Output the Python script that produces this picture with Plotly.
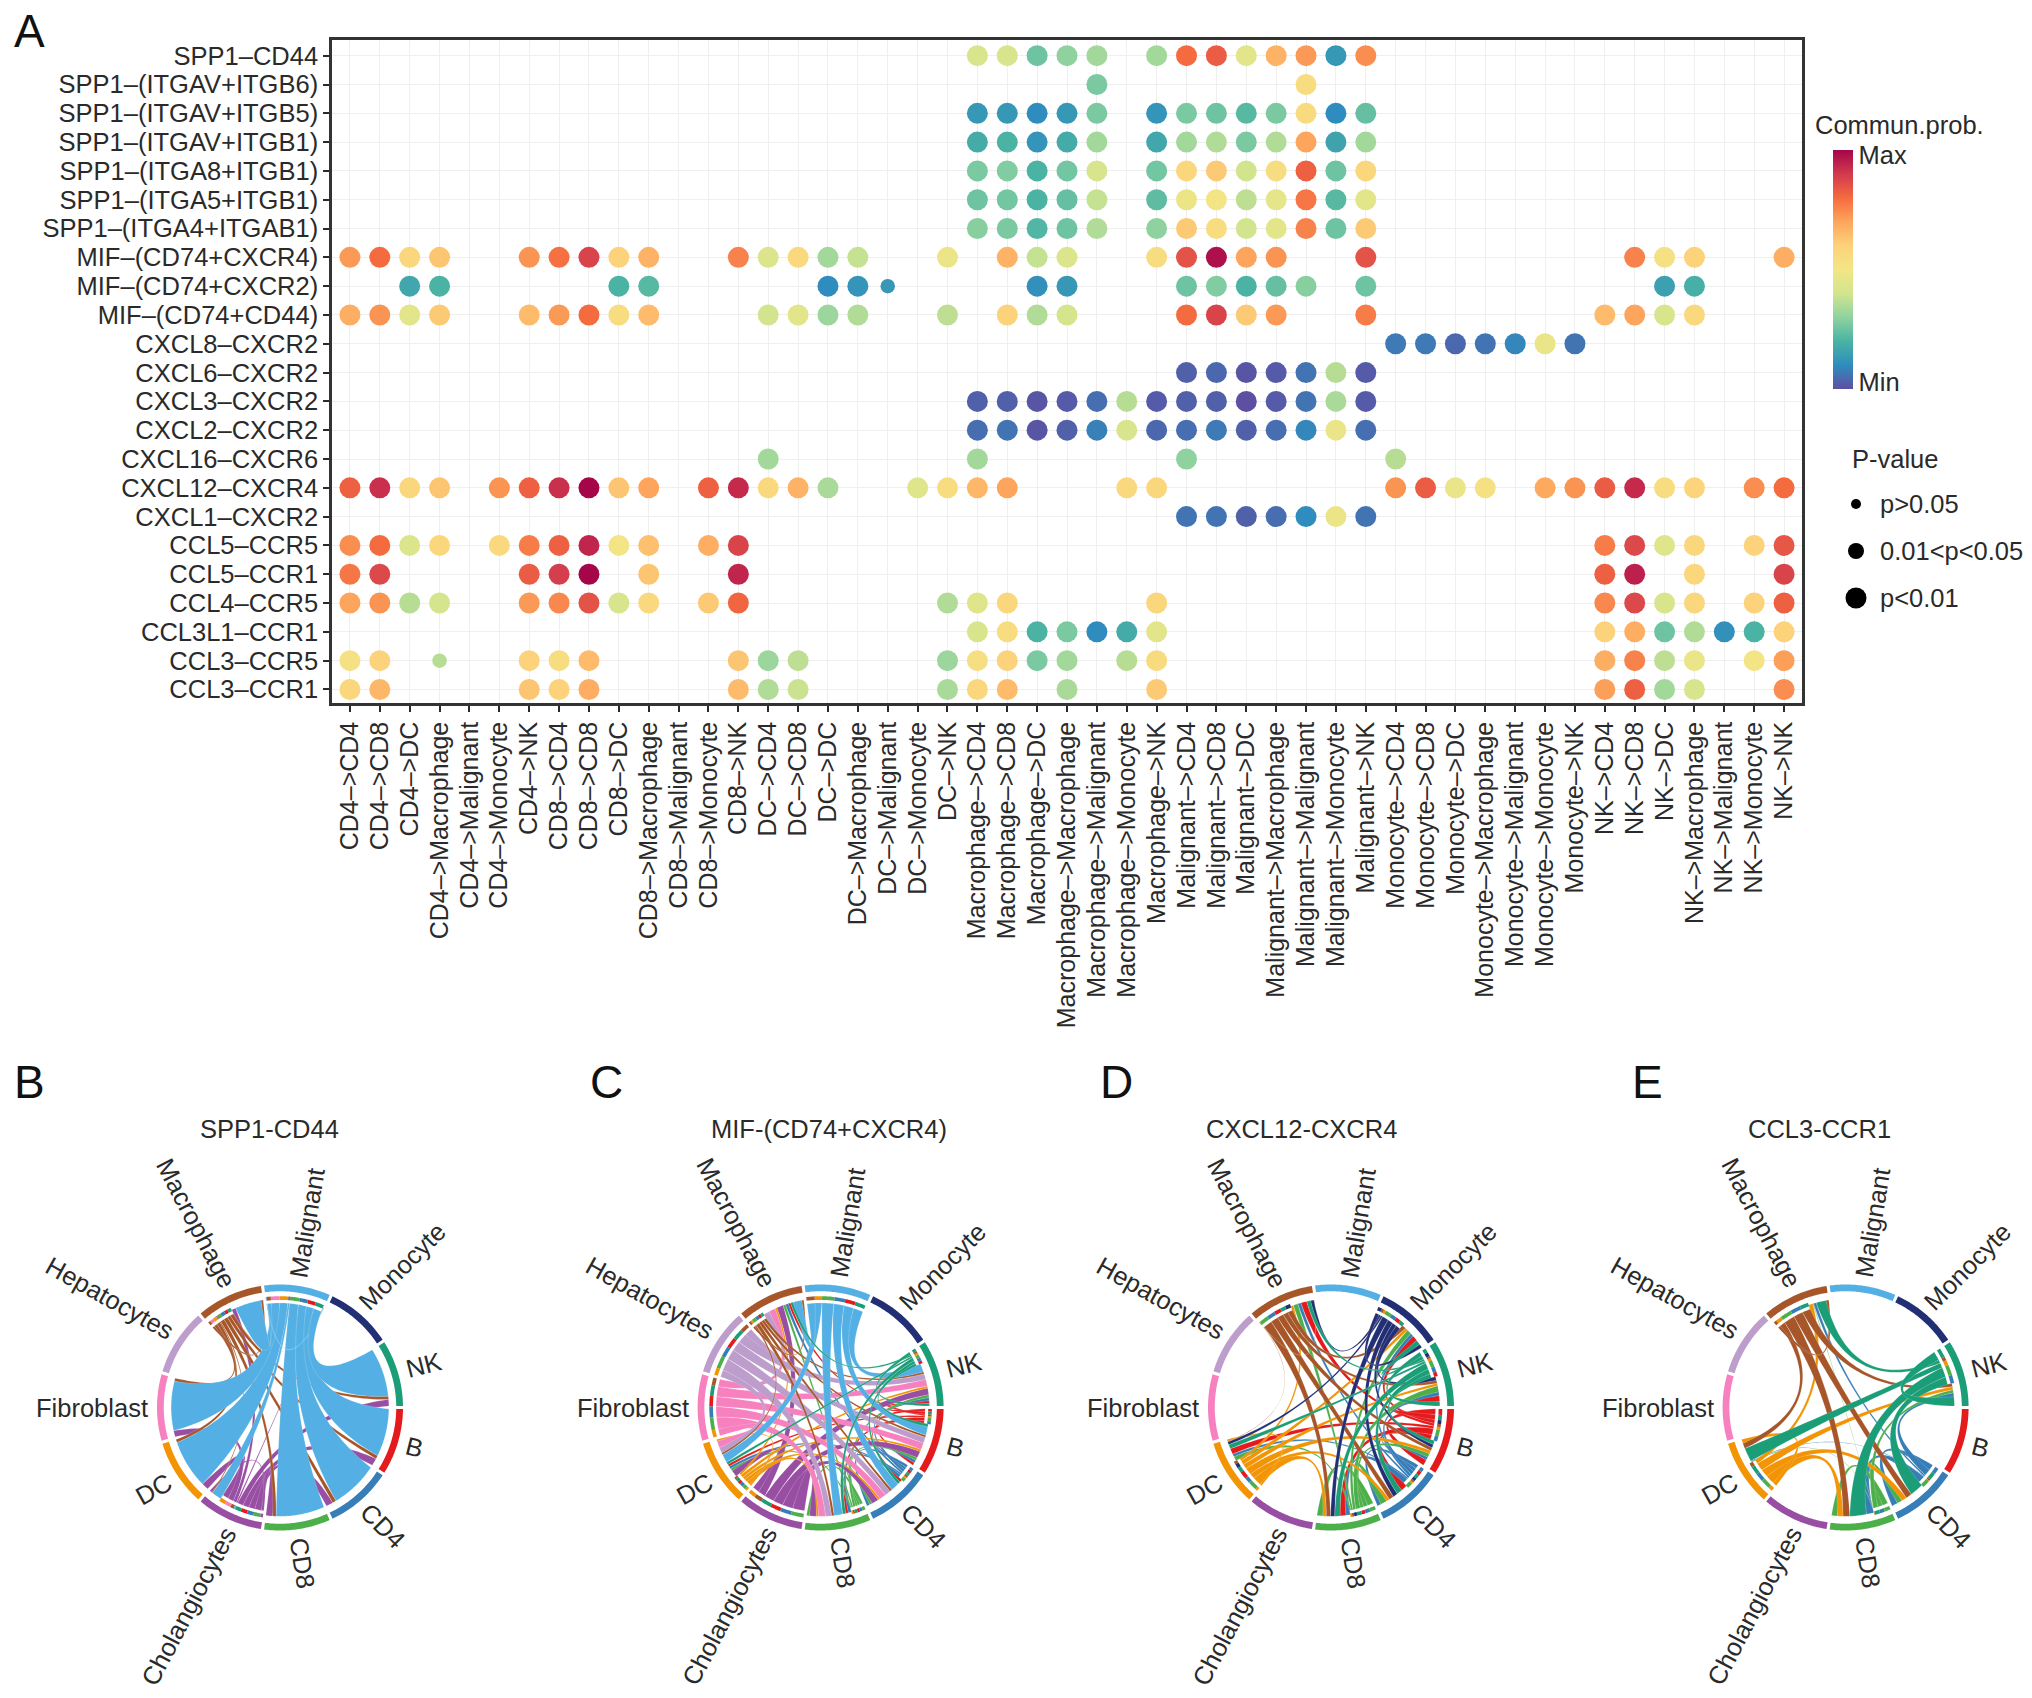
import numpy as np
import plotly.graph_objects as go

W, H = 2032, 1698
FONT = "Liberation Sans"
FS = 25.5
INK = "#2A2A2A"

# ---------------- Panel A data ----------------
cell_types = ["CD4", "CD8", "DC", "Macrophage", "Malignant", "Monocyte", "NK"]
pair_labels = [f"{a}–>{b}" for a in cell_types for b in cell_types]
pathway_labels = ["SPP1–CD44", "SPP1–(ITGAV+ITGB6)", "SPP1–(ITGAV+ITGB5)", "SPP1–(ITGAV+ITGB1)",
                  "SPP1–(ITGA8+ITGB1)", "SPP1–(ITGA5+ITGB1)", "SPP1–(ITGA4+ITGAB1)", "MIF–(CD74+CXCR4)",
                  "MIF–(CD74+CXCR2)", "MIF–(CD74+CD44)", "CXCL8–CXCR2", "CXCL6–CXCR2", "CXCL3–CXCR2",
                  "CXCL2–CXCR2", "CXCL16–CXCR6", "CXCL12–CXCR4", "CXCL1–CXCR2", "CCL5–CCR5", "CCL5–CCR1",
                  "CCL4–CCR5", "CCL3L1–CCR1", "CCL3–CCR5", "CCL3–CCR1"]

# keys: index in pair_labels, values: scaled communication probability
spp1_cd44 = {21:.42,22:.42,23:.25,24:.3,25:.33,27:.33,28:.8,29:.83,30:.45,31:.67,32:.72,33:.13,34:.74}
spp1_b6 = {25:.27,32:.55}
spp1_b5 = {21:.13,22:.13,23:.1,24:.13,25:.27,27:.12,28:.27,29:.25,30:.22,31:.27,32:.56,33:.1,34:.24}
spp1_av_b1 = {21:.18,22:.2,23:.12,24:.18,25:.33,27:.17,28:.33,29:.35,30:.27,31:.35,32:.7,33:.16,34:.33}
spp1_a8_b1 = {21:.27,22:.28,23:.2,24:.26,25:.42,27:.26,28:.58,29:.62,30:.4,31:.54,32:.82,33:.25,34:.58}
spp1_a5_b1 = {21:.25,22:.26,23:.2,24:.24,25:.38,27:.23,28:.48,29:.5,30:.37,31:.46,32:.78,33:.22,34:.45}
spp1_a4_b1 = {21:.29,22:.27,23:.21,24:.25,25:.35,27:.3,28:.62,29:.55,30:.4,31:.45,32:.76,33:.25,34:.62}
mif_cxcr4 = {0:.72,1:.8,2:.58,3:.63,6:.73,7:.79,8:.88,9:.6,10:.67,13:.76,14:.43,15:.57,16:.33,17:.38,20:.48,
             22:.67,23:.38,24:.43,27:.55,28:.85,29:.98,30:.7,31:.73,34:.85,43:.76,44:.52,45:.6,48:.68}
mif_cxcr2 = {2:.17,3:.2,9:.2,10:.22,16:.1,17:.12,18:.13,23:.11,24:.13,28:.25,29:.28,30:.2,31:.24,32:.29,34:.25,44:.15,45:.19}
mif_cd44 = {0:.68,1:.73,2:.45,3:.62,6:.65,7:.72,8:.8,9:.55,10:.65,14:.4,15:.45,16:.32,17:.35,20:.37,22:.6,23:.35,
            24:.41,28:.8,29:.88,30:.62,31:.72,34:.77,42:.65,43:.7,44:.42,45:.57}
cxcl8 = {35:.07,36:.07,37:.04,38:.06,39:.09,40:.47,41:.06}
cxcl6 = {28:.03,29:.04,30:.01,31:.02,32:.06,33:.36,34:.02}
cxcl3 = {21:.03,22:.03,23:.01,24:.02,25:.05,26:.36,27:.02,28:.03,29:.03,30:0,31:.02,32:.06,33:.34,34:.02}
cxcl2 = {21:.05,22:.06,23:.01,24:.03,25:.08,26:.42,27:.04,28:.05,29:.07,30:.03,31:.05,32:.09,33:.47,34:.05}
cxcl16 = {14:.33,21:.33,28:.3,35:.36}
cxcl12 = {0:.82,1:.92,2:.58,3:.63,5:.73,6:.82,7:.92,8:1,9:.63,10:.7,12:.82,13:.93,14:.57,15:.67,16:.34,19:.44,20:.55,
          21:.66,22:.7,26:.57,27:.58,35:.73,36:.83,37:.47,38:.52,40:.69,41:.73,42:.83,43:.93,44:.55,45:.59,47:.74,48:.8}
cxcl1 = {28:.06,29:.06,30:.03,31:.05,32:.1,33:.48,34:.06}
ccl5_ccr5 = {0:.74,1:.8,2:.43,3:.58,5:.57,6:.77,7:.82,8:.94,9:.5,10:.64,12:.68,13:.88,42:.77,43:.87,44:.44,45:.58,47:.6,48:.84}
ccl5_ccr1 = {0:.78,1:.87,6:.83,7:.89,8:1,10:.63,13:.94,42:.82,43:.95,45:.58,48:.88}
ccl4_ccr5 = {0:.7,1:.73,2:.36,3:.41,6:.72,7:.75,8:.85,9:.42,10:.57,12:.62,13:.81,20:.35,21:.44,22:.58,27:.58,42:.75,
             43:.87,44:.42,45:.58,47:.6,48:.82}
ccl3l1 = {21:.42,22:.55,23:.2,24:.27,25:.1,26:.18,27:.45,42:.6,43:.68,44:.25,45:.35,46:.11,47:.2,48:.6}
ccl3_ccr5 = {0:.52,1:.6,3:.36,6:.6,7:.55,8:.65,13:.63,14:.32,15:.37,20:.32,21:.53,22:.6,23:.27,24:.33,26:.36,27:.56,
             42:.68,43:.76,44:.37,45:.47,47:.5,48:.71}
ccl3_ccr1 = {0:.58,1:.66,6:.63,7:.6,8:.68,13:.65,14:.35,15:.39,20:.34,21:.58,22:.65,24:.34,27:.62,42:.71,43:.82,44:.33,45:.42,48:.74}
rows = [spp1_cd44, spp1_b6, spp1_b5, spp1_av_b1, spp1_a8_b1, spp1_a5_b1, spp1_a4_b1, mif_cxcr4, mif_cxcr2, mif_cd44,
        cxcl8, cxcl6, cxcl3, cxcl2, cxcl16, cxcl12, cxcl1, ccl5_ccr5, ccl5_ccr1, ccl4_ccr5, ccl3l1, ccl3_ccr5, ccl3_ccr1]
# (row, column) cells drawn with the middle p-value size
mid_p_cells = [(8, 18), (21, 3)]

spectral = ["#5E4FA2", "#2F8CBE", "#4AB3A4", "#8FD2A0", "#D2E58E", "#F3E586", "#FCD27A", "#FDA55C", "#F46B3F", "#D23A4E", "#A5064A"]
p_labels = ["p>0.05", "0.01<p<0.05", "p<0.01"]
p_sizes = [10, 16, 21]

# ---------------- Chord panels data ----------------
sectors = ["B", "CD4", "CD8", "Cholangiocytes", "DC", "Fibroblast", "Hepatocytes", "Macrophage", "Malignant", "Monocyte", "NK"]
sector_colors = ["#E41A1C", "#377EB8", "#4DAF4A", "#984EA3", "#F29403", "#F781BF", "#BC9DCC", "#A65628", "#54B0E4", "#222F75", "#1B9E77"]

spp1_sources = ["Cholangiocytes", "Macrophage", "Malignant"]
spp1_targets = ["B", "CD4", "CD8", "Cholangiocytes", "DC", "Fibroblast", "Macrophage", "Malignant", "NK"]
spp1_weights = [[.13, .13, .14, .05, .13, .12, .07, .03, .12],
                [.06, .07, .07, .02, .06, .06, .04, .01, .06],
                [.85, .9, 1.0, .2, .9, .95, .45, .08, .9]]

mif_sources = ["B", "CD4", "CD8", "Cholangiocytes", "DC", "Fibroblast", "Hepatocytes", "Macrophage", "Malignant", "NK"]
mif_targets = ["B", "CD4", "CD8", "DC", "Macrophage", "NK"]
mif_weights = [[.32, .34, .38, .2, .22, .32],
               [.36, .38, .42, .22, .26, .36],
               [.34, .36, .42, .22, .24, .36],
               [.8, .85, .95, .55, .6, .8],
               [.26, .28, .32, .16, .18, .26],
               [.8, .85, .95, .55, .6, .8],
               [.7, .75, .85, .5, .55, .7],
               [.26, .3, .34, .16, .2, .26],
               [1.0, 1.05, 1.2, .7, .8, 1.0],
               [.34, .36, .42, .22, .24, .34]]

cxcl12_sources = ["B", "CD4", "CD8", "DC", "Macrophage", "Monocyte", "NK"]
cxcl12_targets = ["B", "CD4", "CD8", "DC", "Macrophage", "Monocyte", "NK"]
cxcl12_weights = [[.9, .8, 1.0, .4, .45, .6, .8],
                  [.5, .5, .7, .2, .25, .35, .5],
                  [.6, .8, 1.0, .3, .35, .5, .8],
                  [.5, .4, .6, .15, .2, .3, .35],
                  [.5, .6, .7, .03, .03, .4, .4],
                  [.5, .6, .7, .2, .25, .4, .5],
                  [.6, .7, .9, .3, .3, .5, .6]]

ccl3_sources = ["CD4", "CD8", "DC", "Macrophage", "NK"]
ccl3_targets = ["CD4", "CD8", "DC", "Macrophage", "NK"]
ccl3_weights = [[.35, .45, .03, .1, .4],
                [.3, .35, .03, .02, .3],
                [.3, .35, .15, .15, .3],
                [.35, .4, .2, .1, .3],
                [.8, 1.0, .5, .35, .9]]

chord_panels = [("SPP1-CD44", spp1_sources, spp1_targets, spp1_weights),
                ("MIF-(CD74+CXCR4)", mif_sources, mif_targets, mif_weights),
                ("CXCL12-CXCR4", cxcl12_sources, cxcl12_targets, cxcl12_weights),
                ("CCL3-CCR1", ccl3_sources, ccl3_targets, ccl3_weights)]

# ---------------- layout constants (pixels) ----------------
PANEL = (332, 1802, 40, 703)
CHORD_R = 123
CHORD_CY = 1407.5
CHORD_CX = [280, 820.6, 1331, 1845.6]
TITLE_X = [269, 829, 1301.6, 1819]
TITLE_Y = 1128.5
LETTERS = [("A", 29, 31), ("B", 29, 1082), ("C", 606, 1082), ("D", 1116, 1082), ("E", 1647, 1082)]
R_OUT, R_OUT_IN, R_TRK, R_TRK_IN, R_SRC, R_TGT = 1.0, .945, .905, .875, .85, .885
GAP = .045
CTRL_R = .12
EDGE_H = .07

HELV = {"C": .722, "D": .722, "F": .611, "H": .722, "M": .833, "N": .722, "K": .667, "B": .667,
        "4": .556, "8": .556, "a": .556, "b": .556, "c": .5, "e": .556, "g": .556, "h": .556, "i": .222,
        "l": .222, "m": .833, "n": .556, "o": .556, "p": .556, "r": .333, "s": .5, "t": .278, "y": .5}
def text_px(s, size):
    return sum(HELV.get(c, .556) for c in s) * size

def fx(px): return px / W
def fy(py): return 1 - py / H

annotations = []
def note(text, px, py, size=FS, angle=0, xanchor="center", color=INK):
    annotations.append(dict(text=text, x=fx(px), y=fy(py), xref="paper", yref="paper", showarrow=False, textangle=angle,
                            xanchor=xanchor, yanchor="middle", font=dict(size=size, color=color, family=FONT)))

fig = go.Figure()

# ---------------- Panel A ----------------
fig.update_layout(
    xaxis=dict(domain=[fx(PANEL[0]), fx(PANEL[1])], type="category", categoryorder="array", categoryarray=pair_labels,
               range=[-.6, 48.6], tickangle=-90, tickfont=dict(size=25, color=INK, family=FONT), ticks="outside", ticklen=6,
               tickcolor=INK, tickwidth=1.5, showgrid=True, gridcolor="#EFEFEF", gridwidth=1, showline=True, mirror=True,
               linecolor="#333333", linewidth=2.5, zeroline=False, tickmode="array", tickvals=pair_labels, ticktext=pair_labels),
    yaxis=dict(domain=[fy(PANEL[3]), fy(PANEL[2])], type="category", categoryorder="array", categoryarray=pathway_labels,
               range=[22.47, -.545], tickfont=dict(size=FS, color=INK, family=FONT), ticks="outside", ticklen=6, tickcolor=INK,
               tickwidth=1.5, showgrid=True, gridcolor="#EFEFEF", gridwidth=1, showline=True, mirror=True, linecolor="#333333",
               linewidth=2.5, zeroline=False, tickmode="array", tickvals=pathway_labels, ticktext=pathway_labels),
)
for is_mid, size in ((False, p_sizes[2]), (True, 14.5)):
    xs, ys, cs = [], [], []
    for r, row in enumerate(rows):
        for c, v in row.items():
            if ((r, c) in mid_p_cells) == is_mid:
                xs.append(pair_labels[c]); ys.append(pathway_labels[r]); cs.append(v)
    fig.add_trace(go.Scatter(x=xs, y=ys, mode="markers", showlegend=False, hoverinfo="skip", xaxis="x", yaxis="y",
                             marker=dict(size=size, color=cs, coloraxis="coloraxis", line_width=0, opacity=1)))

fig.update_layout(coloraxis=dict(
    cmin=0, cmax=1, colorscale=[[i / 10, c] for i, c in enumerate(spectral)],
    colorbar=dict(x=fx(1833), xanchor="left", y=fy(150), yanchor="top", len=239, lenmode="pixels", thickness=20, thicknessmode="pixels",
                  xpad=0, ypad=0, outlinewidth=0, ticks="", tickmode="array", tickvals=[.03, .98], ticktext=["Min", "Max"],
                  tickfont=dict(size=FS, color=INK, family=FONT), ticklabelposition="outside")))

note("Commun.prob.", 1899, 125)
note("P-value", 1895, 459)

# P-value legend on its own small axis
fig.update_layout(
    xaxis2=dict(domain=[fx(1840), fx(1872)], range=[0, 1], visible=False, anchor="y2"),
    yaxis2=dict(domain=[fy(622), fy(480)], range=[2.51, -.51], visible=False, anchor="x2"))
fig.add_trace(go.Scatter(x=[.5] * 3, y=list(range(3)), mode="markers", xaxis="x2", yaxis="y2", showlegend=False, hoverinfo="skip",
                         marker=dict(size=p_sizes, color="black", line_width=0, opacity=1)))
for i, lab in enumerate(p_labels):
    annotations.append(dict(text=lab.replace("<", "&lt;"), x=fx(1878), xanchor="left", y=i, yanchor="middle", xref="paper", yref="y2",
                            showarrow=False, font=dict(size=FS, color=INK, family=FONT)))

# ---------------- Chord panels ----------------
SW = 360 / len(sectors)
def ang(idx, frac):
    return -(idx + GAP / 2 + frac * (1 - GAP)) * SW

def pol(theta, r):
    t = np.radians(theta)
    return r * np.cos(t), r * np.sin(t)

def arc(t1, t2, r):
    n = max(3, int(abs(t2 - t1) / .75) + 2)
    return pol(np.linspace(t1, t2, n), r)

def ring(t1, t2, r1, r2):
    x1, y1 = arc(t1, t2, r1)
    x2, y2 = arc(t2, t1, r2)
    return np.r_[x1, x2, x1[:1]], np.r_[y1, y2, y1[:1]]

def bez(p0, p1, p2, n=40):
    u = np.linspace(0, 1, n)
    return ((1 - u) ** 2 * p0[0] + 2 * u * (1 - u) * p1[0] + u ** 2 * p2[0],
            (1 - u) ** 2 * p0[1] + 2 * u * (1 - u) * p1[1] + u ** 2 * p2[1])

def ribbon(a1, a2, b1, b2):
    pa1, pa2 = np.array(pol(a1, R_SRC)), np.array(pol(a2, R_SRC))
    pb1, pb2 = np.array(pol(b1, R_TGT)), np.array(pol(b2, R_TGT))
    am, bm = (a1 + a2) / 2, (b1 + b2) / 2
    d = ((bm - am + 180) % 360) - 180
    c = np.array(pol(am + d / 2, CTRL_R * abs(np.cos(np.radians(d / 2)))))
    axis = (pb1 + pb2 - pa1 - pa2) / 2
    nrm = np.array([-axis[1], axis[0]]) / max(np.hypot(*axis), 1e-6)
    s = np.sign(np.dot(pb1 - pb2, nrm)) or 1
    h = EDGE_H * (np.hypot(*(pa1 - pa2)) + np.hypot(*(pb1 - pb2)))
    ax_, ay_ = arc(a1, a2, R_SRC)
    ex1, ey1 = bez(pa2, c + s * h * nrm, pb1)
    tx, ty = arc(b1, b2, R_TGT)
    ex2, ey2 = bez(pb2, c - s * h * nrm, pa1)
    return np.r_[ax_, ex1, tx, ex2], np.r_[ay_, ey1, ty, ey2]

n_s = len(sectors)
EXT = 1.06
for p, (title, srcs, tgts, mat) in enumerate(chord_panels):
    ax = p + 3
    cx, cy = CHORD_CX[p], CHORD_CY
    e = EXT * CHORD_R
    fig.update_layout({
        f"xaxis{ax}": dict(domain=[fx(cx - e), fx(cx + e)], range=[-EXT, EXT], visible=False, anchor=f"y{ax}"),
        f"yaxis{ax}": dict(domain=[fy(cy + e), fy(cy - e)], range=[-EXT, EXT], visible=False, anchor=f"x{ax}"),
    })
    flows = [(sectors.index(s), sectors.index(t), mat[i][j])
             for i, s in enumerate(srcs) for j, t in enumerate(tgts) if mat[i][j] > 0]
    src_pos, tgt_pos = {}, {}
    for s in range(n_s):
        outs = sorted([f for f in flows if f[0] == s], key=lambda f: -(((f[1] - s) % n_s) or n_s))
        ins = sorted([f for f in flows if f[1] == s], key=lambda f: (((s - f[0]) % n_s) or n_s))
        total = sum(f[2] for f in outs) + sum(f[2] for f in ins)
        pos = 0.0
        for f in outs:
            src_pos[f] = (ang(s, pos / total), ang(s, (pos + f[2]) / total))
            pos += f[2]
        for f in ins:
            tgt_pos[f] = (ang(s, pos / total), ang(s, (pos + f[2]) / total))
            pos += f[2]
    axk = dict(xaxis=f"x{ax}", yaxis=f"y{ax}", mode="lines", fill="toself", showlegend=False, hoverinfo="skip")
    for s_i, col in enumerate(sector_colors):
        x, y = ring(ang(s_i, 0), ang(s_i, 1), R_OUT, R_OUT_IN)
        fig.add_trace(go.Scatter(x=x, y=y, fillcolor=col, line=dict(width=0, color=col, simplify=False), **axk))
    for f in flows:
        a1, a2 = src_pos[f]
        b1, b2 = tgt_pos[f]
        x, y = ribbon(a1, a2, b1, b2)
        col = sector_colors[f[0]]
        fig.add_trace(go.Scatter(x=x, y=y, fillcolor=col, line=dict(width=.4, color="rgba(255,255,255,.4)", simplify=False), **axk))
        x, y = ring(a1, a2, R_TRK, R_TRK_IN)
        col2 = sector_colors[f[1]]
        fig.add_trace(go.Scatter(x=x, y=y, fillcolor=col2, line=dict(width=0, color=col2, simplify=False), **axk))
    # sector labels
    for s_i, name in enumerate(sectors):
        th = ang(s_i, .5)
        norm = ((th + 180) % 360) - 180
        right = abs(norm) < 90
        base = -norm if right else -(norm - 180 if norm > 0 else norm + 180)
        textangle = np.sign(base) * (abs(base) - 4 * np.sin(np.radians(2 * abs(base))))
        r_px = 1.07 * CHORD_R + text_px(name, FS) / 2
        lx, ly = pol(th, r_px)
        note(name, cx + lx, cy - ly, angle=float(textangle))
    note(title, TITLE_X[p], TITLE_Y)

for lab, lx, ly in LETTERS:
    note(lab, lx, ly, size=46, color="#111111")

fig.update_layout(width=W, height=H, margin=dict(l=0, r=0, t=0, b=0), autosize=False, paper_bgcolor="white", plot_bgcolor="white",
                  showlegend=False, annotations=annotations, font=dict(family=FONT))
fig.write_html("out.html", post_script="document.body.style.margin='0';", config=dict(displayModeBar=False))
